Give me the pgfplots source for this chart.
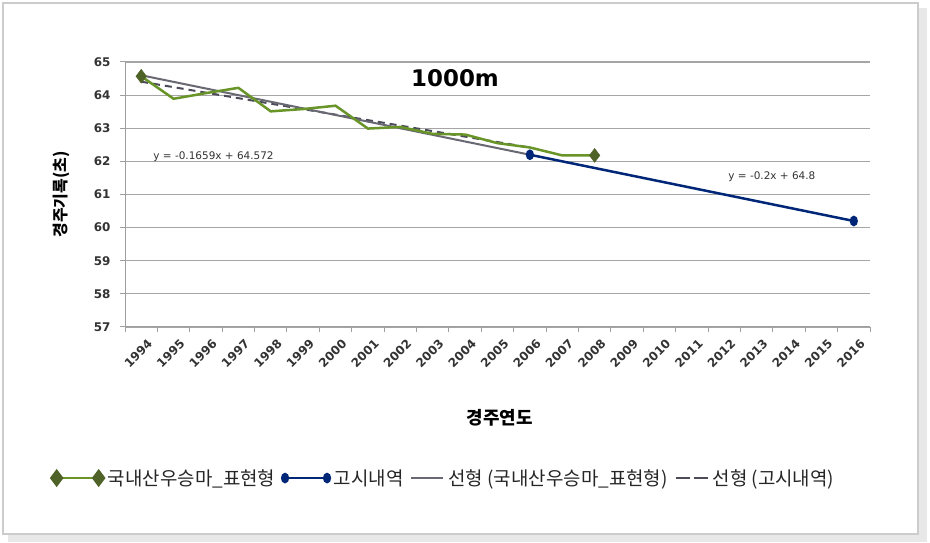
\documentclass[border=0pt]{standalone}
\usepackage{fontspec}
\setmainfont{DejaVu Sans}
\newfontfamily\kr{Noto Sans CJK KR}
\usepackage{pgfplots}
\pgfplotsset{compat=1.18}

\definecolor{grn}{RGB}{104,148,40}
\definecolor{grnmk}{RGB}{79,98,40}
\definecolor{nav}{RGB}{0,38,120}
\definecolor{trd}{RGB}{105,105,115}
\definecolor{trdd}{RGB}{75,75,90}
\definecolor{gridc}{RGB}{165,165,165}

\pgfplotsset{
  legA/.style={legend image code/.code={\draw[##1] plot coordinates {(0bp,0bp) (42bp,0bp)};}},
  legB/.style={legend image code/.code={\draw[##1] plot coordinates {(0bp,0bp) (42bp,0bp)};}},
  legC/.style={legend image code/.code={\draw[##1] (0bp,0bp) -- (32bp,0bp);}},
}

\begin{document}
\begin{tikzpicture}
\fill[white] (0bp,0bp) rectangle (930bp,543bp);
\fill[gray!18] (918bp,2bp) rectangle (927bp,535bp);
\fill[gray!18] (8bp,1bp) rectangle (927bp,9bp);
\draw[gray!40, line width=1.2bp] (3bp,9bp) rectangle (918bp,540bp);

\begin{axis}[
  at={(125bp,216bp)}, anchor=south west,
  scale only axis, width=745bp, height=265bp,
  xmin=0.5, xmax=23.5, ymin=57, ymax=65,
  axis lines=left, axis line style={-, draw=gray!75, line width=1bp},
  xtick={1,...,23},
  xticklabels={1994,1995,1996,1997,1998,1999,2000,2001,2002,2003,2004,2005,2006,2007,2008,2009,2010,2011,2012,2013,2014,2015,2016},
  minor xtick={0.5,1.5,...,23.5},
  ytick={57,...,65},
  yticklabels={57,58,59,60,61,62,63,64,65},
  tick align=outside,
  major tick length=5bp, minor tick length=5bp,
  major x tick style={draw=none},
  minor x tick style={draw=gray!75, line width=1bp},
  major y tick style={draw=gray!75, line width=1bp},
  ymajorgrids, major grid style={draw=gridc, line width=1.2bp},
  xticklabel style={rotate=45, anchor=east, font=\bfseries\fontsize{12}{14}\selectfont, text=black!80, xshift=3bp, yshift=-13bp},
  yticklabel style={font=\bfseries\fontsize{12}{14}\selectfont, text=black!80, xshift=-6bp},
  xlabel={\kr\bfseries 경주연도},
  ylabel={\kr\bfseries 경주기록(초)},
  every axis x label/.style={at={(axis description cs:0.503,-0.343)}, anchor=center, font=\fontsize{18}{20}\selectfont},
  every axis y label/.style={at={(axis description cs:-0.085,0.5)}, rotate=90, anchor=center, font=\fontsize{16}{18}\selectfont},
  clip=false,
  legend style={at={(axis description cs:-0.103,-0.570)}, anchor=west, draw=none, fill=none,
    font=\kr\fontsize{19}{21}\selectfont, text=black!85,
    /tikz/every odd column/.append style={column sep=2bp},
    /tikz/every even column/.append style={column sep=5bp}},
  legend columns=4,
]
% linear trend of the first series (dashed)
\addplot[forget plot, trdd, line width=2bp, dash pattern=on 7bp off 5bp] coordinates {(1,64.406) (13,62.416)};
% linear trend drawn solid
\addplot[forget plot, trd, line width=2bp] coordinates {(1,64.6) (13,62.2)};
% series 1
\addplot[forget plot, grn, line width=2.5bp] coordinates {
(1,64.57) (2,63.89) (3,64.06) (4,64.22) (5,63.51) (6,63.58) (7,63.68) (8,62.99)
(9,63.04) (10,62.83) (11,62.81) (12,62.55) (13,62.42) (14,62.18) (15,62.18)};
\addplot[forget plot, only marks, mark=diamond*, mark size=7bp, draw=grnmk, fill=grnmk] coordinates {(1,64.57) (15,62.18)};
% series 2
\addplot[forget plot, nav, line width=2.5bp, mark=*, mark size=4bp, mark options={xscale=0.7, fill=nav}] coordinates {(13,62.2) (23,60.2)};

\node[anchor=west, font=\fontsize{10.5}{12}\selectfont, text=black!80] at (axis cs:1.27,62.13) {y = -0.1659x + 64.572};
\node[anchor=west, font=\fontsize{10.5}{12}\selectfont, text=black!80] at (axis cs:19.02,61.53) {y = -0.2x + 64.8};
\node[font=\bfseries\fontsize{23}{26}\selectfont] at (axis description cs:0.443,0.94) {1000m};

\addlegendimage{legA, grn, line width=2.5bp, mark=diamond*, mark size=7bp, mark options={draw=grnmk, fill=grnmk}}
\addlegendentry{국내산우승마\_표현형}
\addlegendimage{legB, nav, line width=2.5bp, mark=*, mark size=4bp, mark options={xscale=0.7, fill=nav}}
\addlegendentry{고시내역}
\addlegendimage{legC, trd, line width=2bp}
\addlegendentry{선형 (국내산우승마\_표현형)}
\addlegendimage{legC, trdd, line width=2bp, dash pattern=on 14bp off 4bp}
\addlegendentry{선형 (고시내역)}
\end{axis}
\pgfresetboundingbox
\useasboundingbox (0bp,0bp) rectangle (930bp,543bp);
\end{tikzpicture}
\end{document}
